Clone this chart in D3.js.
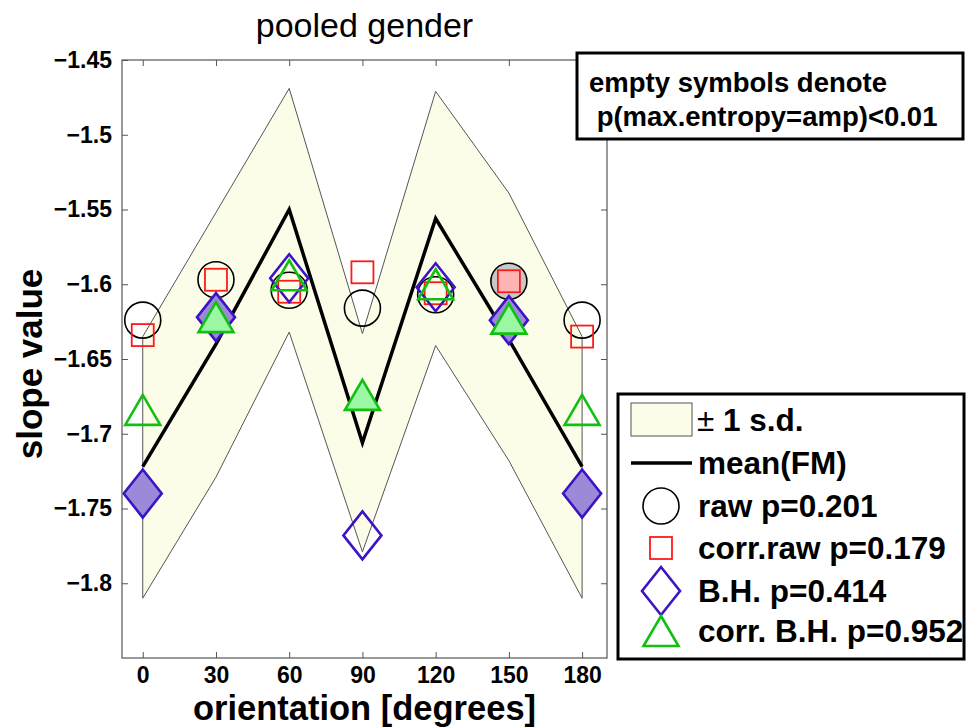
<!DOCTYPE html>
<html>
<head>
<meta charset="utf-8">
<script src="https://cdn.jsdelivr.net/npm/d3@7"></script>
<style>
  html, body { margin: 0; padding: 0; background: #fff; }
  svg { display: block; font-family: "Liberation Sans", Arial, Helvetica, sans-serif; }
</style>
</head>
<body>
<svg id="chart" width="967" height="728"></svg>
<script>
// ---- data ----
const orientations = [0, 30, 60, 90, 120, 150, 180];
const sdUpper = [-1.635, -1.552, -1.469, -1.633, -1.471, -1.539, -1.635];
const sdLower = [-1.810, -1.729, -1.632, -1.779, -1.641, -1.718, -1.810];
const meanFM  = [-1.722, -1.640, -1.550, -1.706, -1.556, -1.637, -1.722];

const rawVals      = [-1.624, -1.597, -1.604, -1.616, -1.607, -1.598, -1.624];
const rawFilled    = [false, false, false, false, false, true, false];
const corrRawVals  = [-1.634, -1.597, -1.605, -1.592, -1.606, -1.598, -1.635];
const corrRawFilled= [false, false, false, false, false, true, false];
const bhVals       = [-1.740, -1.622, -1.596, -1.768, -1.602, -1.624, -1.740];
const bhFilled     = [true, true, false, false, false, true, true];
const corrBhVals   = [-1.684, -1.622, -1.594, -1.674, -1.600, -1.623, -1.684];
const corrBhFilled = [false, true, false, true, false, true, false];

const xTicks = [0, 30, 60, 90, 120, 150, 180];
const xTickLabels = ["0", "30", "60", "90", "120", "150", "180"];
const yTicks = [-1.8, -1.75, -1.7, -1.65, -1.6, -1.55, -1.5, -1.45];
const yTickLabels = ["\u22121.8", "\u22121.75", "\u22121.7", "\u22121.65", "\u22121.6", "\u22121.55", "\u22121.5", "\u22121.45"];

const legendLabels = ["\u00b1 1 s.d.", "mean(FM)", "raw p=0.201", "corr.raw p=0.179", "B.H. p=0.414", "corr. B.H. p=0.952"];
const titleText = "pooled gender";
const xLabelText = "orientation [degrees]";
const yLabelText = "slope value";
const noteLines = ["empty symbols denote", " p(max.entropy=amp)<0.01"];

// ---- layout ----
const svg = d3.select("#chart");
const L = 122, R = 607, T = 60, B = 658;
const x = d3.scaleLinear().domain([-8.5, 190.2]).range([L, R]);
const y = d3.scaleLinear().domain([-1.85, -1.45]).range([B, T]);

const bandFill = "#fcfde8";
const colCircle = "#000";
const colSquare = "#ff1a1a", fillSquare = "#ffb4b4";
const colDiamond = "#3c14c4", fillDiamond = "#9c8ad8";
const colTri = "#12c012", fillTri = "#9cf7a4";
const fillCircle = "#c8c8c8";

// axes box background
svg.append("rect").attr("x", L).attr("y", T).attr("width", R - L).attr("height", B - T)
  .attr("fill", "#fff");

// band
const bandPts = orientations.map((o, i) => [x(o), y(sdUpper[i])])
  .concat(orientations.slice().reverse().map((o, j) => {
    const i = orientations.length - 1 - j; return [x(o), y(sdLower[i])];
  }));
svg.append("path").attr("d", d3.line()(bandPts) + "Z")
  .attr("fill", bandFill).attr("stroke", "#555").attr("stroke-width", 1);

// mean line
svg.append("path")
  .attr("d", d3.line().x((d, i) => x(orientations[i])).y(d => y(d))(meanFM))
  .attr("fill", "none").attr("stroke", "#000").attr("stroke-width", 3.5)
  .attr("stroke-linejoin", "miter");

// marker shapes
function diamondPath(cx, cy) {
  const hw = 19, hh = 24;
  return `M${cx},${cy - hh}L${cx + hw},${cy}L${cx},${cy + hh}L${cx - hw},${cy}Z`;
}
function triPath(cx, cy) {
  const hw = 17.5, hh = 15;
  return `M${cx},${cy - hh}L${cx + hw},${cy + hh}L${cx - hw},${cy + hh}Z`;
}

const gM = svg.append("g");
gM.selectAll("circle.raw").data(rawVals).join("circle").attr("class", "raw")
  .attr("cx", (d, i) => x(orientations[i])).attr("cy", d => y(d)).attr("r", 18)
  .attr("fill", (d, i) => rawFilled[i] ? fillCircle : "none")
  .attr("stroke", colCircle).attr("stroke-width", 1.6);
gM.selectAll("rect.sq").data(corrRawVals).join("rect").attr("class", "sq")
  .attr("x", (d, i) => x(orientations[i]) - 11).attr("y", d => y(d) - 11)
  .attr("width", 22).attr("height", 22)
  .attr("fill", (d, i) => corrRawFilled[i] ? fillSquare : "none")
  .attr("stroke", colSquare).attr("stroke-width", 1.8);
gM.selectAll("path.dia").data(bhVals).join("path").attr("class", "dia")
  .attr("d", (d, i) => diamondPath(x(orientations[i]), y(d)))
  .attr("fill", (d, i) => bhFilled[i] ? fillDiamond : "none")
  .attr("stroke", colDiamond).attr("stroke-width", 2.6);
gM.selectAll("path.tri").data(corrBhVals).join("path").attr("class", "tri")
  .attr("d", (d, i) => triPath(x(orientations[i]), y(d)))
  .attr("fill", (d, i) => corrBhFilled[i] ? fillTri : "none")
  .attr("stroke", colTri).attr("stroke-width", 2.6);

// axes
const axisColor = "#555";
function styleAxis(g, withText) {
  g.select(".domain").remove();
  g.selectAll(".tick line").attr("stroke", axisColor).attr("stroke-width", 1);
  g.selectAll(".tick text").attr("font-size", 23).attr("font-weight", "bold")
    .attr("fill", "#000").attr("font-family", "'Liberation Sans', Arial, sans-serif");
  if (!withText) g.selectAll(".tick text").remove();
}
svg.append("g").attr("transform", `translate(0,${B})`)
  .call(d3.axisBottom(x).tickValues(xTicks).tickFormat((d, i) => xTickLabels[i])
    .tickSizeInner(-6).tickSizeOuter(0).tickPadding(9))
  .call(g => styleAxis(g, true))
  .call(g => g.selectAll(".tick text").attr("dy", "0.71em"));
svg.append("g").attr("transform", `translate(0,${T})`)
  .call(d3.axisTop(x).tickValues(xTicks).tickSizeInner(-6).tickSizeOuter(0))
  .call(g => styleAxis(g, false));
svg.append("g").attr("transform", `translate(${L},0)`)
  .call(d3.axisLeft(y).tickValues(yTicks).tickFormat((d, i) => yTickLabels[i])
    .tickSizeInner(-6).tickSizeOuter(0).tickPadding(10))
  .call(g => styleAxis(g, true));
svg.append("g").attr("transform", `translate(${R},0)`)
  .call(d3.axisRight(y).tickValues(yTicks).tickSizeInner(-6).tickSizeOuter(0))
  .call(g => styleAxis(g, false));
svg.append("rect").attr("x", L).attr("y", T).attr("width", R - L).attr("height", B - T)
  .attr("fill", "none").attr("stroke", axisColor).attr("stroke-width", 1.2);

// title & labels
svg.append("text").attr("x", (L + R) / 2).attr("y", 37).attr("text-anchor", "middle")
  .attr("font-size", 34).attr("fill", "#000").text(titleText);
svg.append("text").attr("x", (L + R) / 2).attr("y", 720).attr("text-anchor", "middle")
  .attr("font-size", 34.5).attr("font-weight", "bold").attr("fill", "#000").text(xLabelText);
svg.append("text").attr("transform", `translate(42,${(T + B) / 2 + 5}) rotate(-90)`)
  .attr("text-anchor", "middle").attr("font-size", 35).attr("font-weight", "bold")
  .attr("fill", "#000").text(yLabelText);

// annotation box
const note = svg.append("g");
note.append("rect").attr("x", 577).attr("y", 53).attr("width", 386).attr("height", 86)
  .attr("fill", "#fff").attr("stroke", "#000").attr("stroke-width", 3);
note.selectAll("text").data(noteLines).join("text")
  .attr("x", 589).attr("y", (d, i) => 92 + i * 34)
  .attr("font-size", 27.5).attr("font-weight", "bold").attr("fill", "#000")
  .attr("xml:space", "preserve").style("white-space", "pre").text(d => d);

// legend
const lg = svg.append("g");
lg.append("rect").attr("x", 618).attr("y", 394).attr("width", 346).attr("height", 265)
  .attr("fill", "#fff").attr("stroke", "#000").attr("stroke-width", 3);
const rowY = [420, 463, 506, 548, 591, 631];
const symX = 661;
lg.append("rect").attr("x", 631).attr("y", 403).attr("width", 61).attr("height", 33)
  .attr("fill", bandFill).attr("stroke", "#555").attr("stroke-width", 1);
lg.append("line").attr("x1", 631).attr("x2", 692).attr("y1", rowY[1]).attr("y2", rowY[1])
  .attr("stroke", "#000").attr("stroke-width", 3.5);
lg.append("circle").attr("cx", symX).attr("cy", rowY[2]).attr("r", 18)
  .attr("fill", "none").attr("stroke", colCircle).attr("stroke-width", 1.6);
lg.append("rect").attr("x", symX - 11).attr("y", rowY[3] - 11).attr("width", 22).attr("height", 22)
  .attr("fill", "none").attr("stroke", colSquare).attr("stroke-width", 1.8);
lg.append("path").attr("d", diamondPath(symX, rowY[4]))
  .attr("fill", "none").attr("stroke", colDiamond).attr("stroke-width", 2.6);
lg.append("path").attr("d", triPath(symX, rowY[5]))
  .attr("fill", "none").attr("stroke", colTri).attr("stroke-width", 2.6);

const legText = lg.selectAll("text.leg").data(legendLabels).join("text").attr("class", "leg")
  .attr("x", (d, i) => i === 0 ? 697 : 698).attr("y", (d, i) => rowY[i] + 11)
  .attr("font-size", 31.5).attr("font-weight", "bold").attr("fill", "#000");
legText.each(function (d, i) {
  const t = d3.select(this);
  if (i === 0) {
    t.append("tspan").attr("font-weight", "normal").text(d.slice(0, 1));
    t.append("tspan").text(d.slice(1));
  } else {
    t.text(d);
  }
});
</script>
</body>
</html>
